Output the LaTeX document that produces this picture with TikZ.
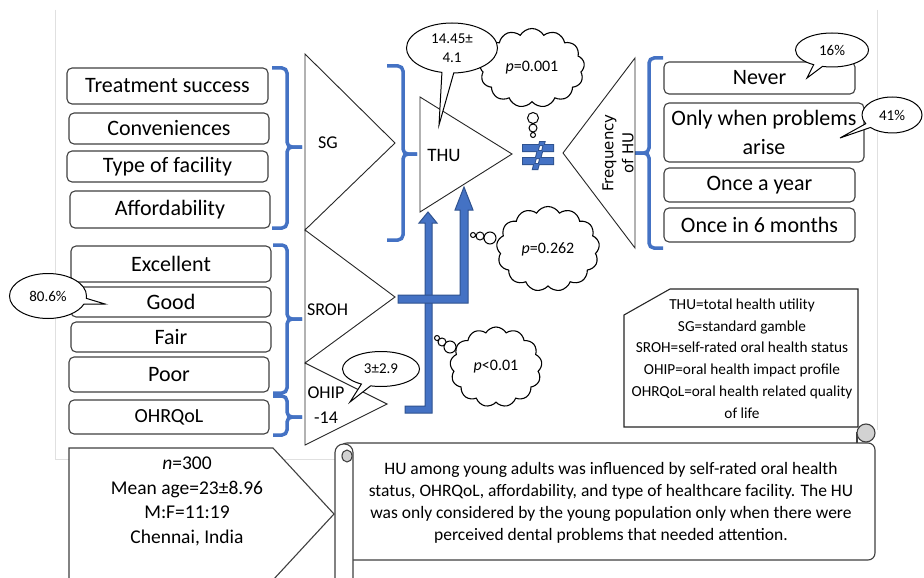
\documentclass[tikz,border=0pt]{standalone}
\usepackage{fontspec}
\setmainfont{Carlito}
\newfontfamily\dejavu{DejaVu Sans}
\usetikzlibrary{shapes.geometric,shapes.symbols,shapes.callouts}
\definecolor{bl}{HTML}{4472C4}
\definecolor{bld}{HTML}{2F528F}
\definecolor{edge}{HTML}{404040}
\begin{document}
\begin{tikzpicture}[x=1pt,y=-1pt,
 optbox/.style={draw=edge,line width=1.1pt,rounded corners=5pt,inner sep=0pt,align=center,font=\fontsize{22}{29}\selectfont},
 brace/.style={draw=bl,line width=3.5pt,rounded corners=5pt},
 tri/.style={draw=black!85,line width=0.9pt},
 lbl/.style={font=\fontsize{18}{21}\selectfont},
 bubble/.style={ellipse callout,draw=black,line width=1pt,fill=white,inner sep=0pt,font=\fontsize{15}{19}\selectfont,align=center},
 thought/.style={cloud,cloud puffs=13,cloud puff arc=120,draw=black,line width=1.1pt,fill=white,inner sep=0pt,font=\fontsize{16}{19}\selectfont},
 puff/.style={draw=black,line width=1pt,fill=white},
 bluearrow/.style={fill=bl,draw=bld,line width=1pt,line join=miter},
 faint/.style={draw=black!12,line width=0.8pt},
 scr/.style={draw=edge,line width=1.1pt}
]
\useasboundingbox (0,0) rectangle (924,578);
\clip (0,0) rectangle (924,578);
\fill[white] (0,0) rectangle (924,578);

% faint frame of the embedded picture
\draw[faint] (55,10) -- (55,459) -- (336,459);
\draw[faint] (877,10) -- (877,430);

% left option boxes
\node[optbox,minimum width=201pt,minimum height=36pt] (ts) at (167.5,86) {Treatment success};
\node[optbox,minimum width=200pt,minimum height=31pt] (cv) at (169,128.5) {Conveniences};
\node[optbox,minimum width=201pt,minimum height=31pt] (tf) at (167.5,166.5) {Type of facility};
\node[optbox,minimum width=200pt,minimum height=37pt] (af) at (170,209.5) {Affordability};
\node[optbox,minimum width=200pt,minimum height=36pt] (ex) at (171,264) {Excellent};
\node[optbox,minimum width=200pt,minimum height=30pt] (gd) at (171,302) {Good};
\node[optbox,minimum width=200pt,minimum height=30pt] (fr) at (171,337) {Fair};
\node[optbox,minimum width=200pt,minimum height=35pt] (pr) at (169,374.5) {Poor};
\node[optbox,minimum width=200pt,minimum height=34pt,font=\fontsize{20}{24}\selectfont] (oq) at (169,417) {OHRQoL};

% right option boxes
\node[optbox,minimum width=191pt,minimum height=32pt] (nv) at (759.5,78) {Never};
\node[optbox,minimum width=200pt,minimum height=59pt] (ow) at (764,132.5) {Only when problems\\arise};
\node[optbox,minimum width=191pt,minimum height=34pt] (oy) at (759.5,185) {Once a year};
\node[optbox,minimum width=191pt,minimum height=34pt] (o6) at (759.5,225) {Once in 6 months};

% braces
\draw[brace] (272,68) -- (287,68) -- (287,147) -- (302,147);
\draw[brace] (302,147) -- (287,147) -- (287,228) -- (272,228);
\draw[brace] (273,245) -- (287,245) -- (287,319) -- (302,319);
\draw[brace] (302,319) -- (287,319) -- (287,393) -- (273,393);
\draw[brace] (273,396) -- (287,396) -- (287,417) -- (302,417);
\draw[brace] (302,417) -- (287,417) -- (287,435) -- (273,435);
\draw[brace] (387,66) -- (403,66) -- (403,154) -- (417,154);
\draw[brace] (417,154) -- (403,154) -- (403,240) -- (387,240);
\draw[brace] (663,58) -- (649,58) -- (649,153) -- (635,153);
\draw[brace] (635,153) -- (649,153) -- (649,248) -- (663,248);

% triangles
\coordinate (sgA) at (395,143);
\coordinate (srA) at (395,297);
\coordinate (ohA) at (387,404);
\coordinate (thA) at (512,154);
\draw[tri] (305,54) -- (305,230) -- (sgA) -- cycle;
\draw[tri] (305,230) -- (305,363) -- (srA) -- cycle;
\draw[tri] (305,363) -- (305,445) -- (ohA) -- cycle;
\draw[tri] (420,97) -- (420,212) -- (thA) -- cycle;
\draw[tri] (635,58) -- (635,248) -- (563,153) -- cycle;
\node[lbl] (sg) at (328,143) {SG};
\node[lbl] (sr) at (327.5,310) {SROH};
\node[lbl,align=center,font=\fontsize{18}{25}\selectfont] (oh) at (326,405) {OHIP\\-14};
\node[lbl,font=\fontsize{19}{21}\selectfont] (thu) at (444,155) {THU};
\node[rotate=90,align=center,font=\dejavu\fontsize{15}{20}\selectfont] (fq) at (618,153) {Frequency\\of HU};

% blue arrows
\draw[bluearrow] (405,406) -- (425,406) -- (425,223) -- (419,223) -- (428,212) -- (437,223) -- (432,223) -- (432,413) -- (405,413) -- cycle;
\draw[bluearrow] (398,295) -- (460,295) -- (460,210) -- (455,210) -- (464,187) -- (473,210) -- (468,210) -- (468,303) -- (398,303) -- cycle;

% not-equal sign
\draw[bld,line width=2pt] (523,145) rectangle (553,151) (523,158) rectangle (553,164) (540,142) -- (544.5,142) -- (537.5,169) -- (533,169) -- cycle;
\fill[bl] (523,145) rectangle (553,151) (523,158) rectangle (553,164) (540,142) -- (544.5,142) -- (537.5,169) -- (533,169) -- cycle;

% thought clouds
\node[thought,minimum width=105pt,minimum height=79pt,aspect=1.33] (c1) at (532,68) {\textit{p}=0.001};
\draw[puff] (533,118) circle[radius=5.5pt] (533,128) circle[radius=4pt] (533,135) circle[radius=2.5pt];
\node[thought,minimum width=103pt,minimum height=85pt,aspect=1.2] (c2) at (548,249) {\textit{p}=0.262};
\draw[puff] (490,238) circle[radius=6pt] (480,236) circle[radius=4pt] (473,235) circle[radius=2.5pt];
\node[thought,minimum width=92pt,minimum height=80pt,aspect=1.15] (c3) at (496,367) {\textit{p}<0.01};
\draw[puff] (450,347) circle[radius=6pt] (442,342) circle[radius=4pt] (437,338) circle[radius=2.5pt];

% speech bubbles
\node[bubble,minimum width=91pt,minimum height=50pt,callout absolute pointer={(439,125)}] (b1) at (452,48) {14.45±\\4.1};
\node[bubble,minimum width=73pt,minimum height=34pt,callout absolute pointer={(807,78)}] (b2) at (832,50) {16\%};
\node[bubble,minimum width=60pt,minimum height=36pt,callout absolute pointer={(840,138)}] (b3) at (892,115) {41\%};
\node[bubble,minimum width=77pt,minimum height=45pt,callout absolute pointer={(105,304)}] (b4) at (48,296) {80.6\%};
\node[bubble,minimum width=77pt,minimum height=35pt,callout absolute pointer={(350,402)}] (b5) at (381,369) {3±2.9};

% legend
\draw[draw=black!85,line width=1.1pt,fill=white] (624,315) -- (670,289) -- (858,289) -- (858,427) -- (624,427) -- cycle;
\node[align=center,font=\fontsize{15.3}{21.8}\selectfont] (lg) at (742,358.5) {THU=total health utility\\SG=standard gamble\\SROH=self-rated oral health status\\OHIP=oral health impact profile\\OHRQoL=oral health related quality\\of life};

% sample pentagon
\draw[draw=edge,line width=1.1pt,fill=white] (69,448) -- (273,448) -- (334,514) -- (273,580) -- (69,580) -- cycle;
\node[align=center,font=\fontsize{19.5}{24.4}\selectfont] (smp) at (187,501.5) {\textit{n}=300\\Mean age=23±8.96\\M:F=11:19\\Chennai, India};

% scroll
\draw[scr,fill=white,rounded corners=7pt] (340,560) -- (340,443) -- (857,443) -- (875,443) -- (875,560) -- cycle;
\draw[scr] (857,443) -- (857,432);
\draw[scr,fill=gray!35] (866,433) circle[radius=9pt];
\draw[scr,fill=white,rounded corners=8.5pt] (335,600) rectangle (353,444);
\draw[scr,fill=gray!35] (347,456) ellipse[x radius=5pt,y radius=6pt];
\node[align=center,font=\fontsize{17.5}{22}\selectfont] (con) at (611,503) {HU among young adults was influenced by self-rated oral health\\status, OHRQoL, affordability, and type of healthcare facility. The HU\\was only considered by the young population only when there were\\perceived dental problems that needed attention.};
\end{tikzpicture}
\end{document}
